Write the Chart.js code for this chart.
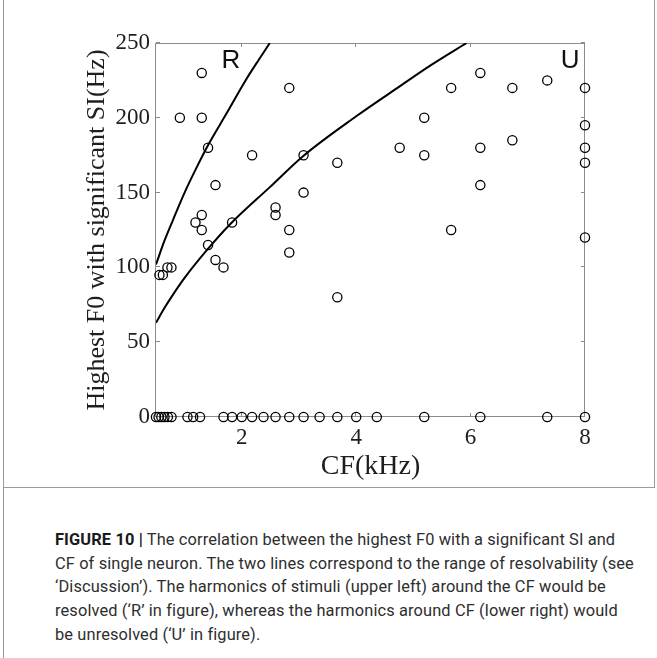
<!DOCTYPE html>
<html>
<head>
<meta charset="utf-8">
<script src="https://cdn.jsdelivr.net/npm/chart.js@4/dist/chart.umd.min.js"></script>
<style>
  html, body { margin: 0; padding: 0; background: #fff; }
  body { width: 657px; height: 658px; position: relative; overflow: hidden; }
  #plot { position: absolute; left: 0; top: 0; width: 657px; height: 485px; }
  .rule { position: absolute; background: #9a9a9a; }
  #caption {
    position: absolute; left: 55px; top: 528px; width: 600px;
    font-family: Roboto, "Liberation Sans", sans-serif; font-size: 16.4px;
    letter-spacing: 0.12px;
    line-height: 23.7px; color: #2e2e2e; white-space: nowrap;
  }
  #caption b { font-weight: bold; color: #1a1a1a; }
</style>
</head>
<body>
<div id="plot"><canvas id="chart" width="657" height="485"></canvas></div>
<div class="rule" style="left:3px; top:0; width:1px; height:658px;"></div>
<div class="rule" style="left:654px; top:0; width:1px; height:487px;"></div>
<div class="rule" style="left:3px; top:487px; width:652px; height:1px;"></div>
<div id="caption"><b>FIGURE 10 |</b> The correlation between the highest F0 with a significant SI and<br>CF of single neuron. The two lines correspond to the range of resolvability (see<br>‘Discussion’). The harmonics of stimuli (upper left) around the CF would be<br>resolved (‘R’ in figure), whereas the harmonics around CF (lower right) would<br>be unresolved (‘U’ in figure).</div>

<script>
// Characteristic frequency (kHz) of each neuron and the highest F0 (Hz)
// that still gave a significant SI for it.
const neuronCF = [
  0.56, 0.62, 0.70, 0.77,
  0.917,
  1.19,
  1.30, 1.30, 1.30, 1.30,
  1.41, 1.41,
  1.54, 1.54,
  1.68,
  1.83,
  2.18,
  2.59, 2.59,
  2.83, 2.83, 2.83,
  3.08, 3.08,
  3.67, 3.67,
  4.76,
  5.19, 5.19,
  5.66, 5.66,
  6.17, 6.17, 6.17,
  6.73, 6.73,
  7.34,
  8.0, 8.0, 8.0, 8.0, 8.0,
  // neurons without any significant F0
  0.5, 0.545, 0.594, 0.648, 0.707, 0.771,
  1.05, 1.15, 1.27,
  1.68, 1.83, 2.0, 2.18, 2.38, 2.59, 2.83, 3.08, 3.36, 3.67, 4.0, 4.36,
  5.19, 6.17, 7.34, 8.0
];
const neuronF0 = [
  95, 95, 100, 100,
  200,
  130,
  230, 200, 135, 125,
  180, 115,
  155, 105,
  100,
  130,
  175,
  140, 135,
  220, 125, 110,
  175, 150,
  170, 80,
  180,
  200, 175,
  220, 125,
  230, 180, 155,
  220, 185,
  225,
  220, 195, 180, 170, 120,
  0, 0, 0, 0, 0, 0,
  0, 0, 0,
  0, 0, 0, 0, 0, 0, 0, 0, 0, 0, 0, 0,
  0, 0, 0, 0
];

// Boundaries of resolvability
const resolvedCF   = [0.5, 0.65, 0.8, 1.0, 1.2, 1.4, 1.75, 2.05, 2.3, 2.49];
const resolvedF0   = [102, 118, 132, 150, 166, 181, 204, 224, 239, 250];
const unresolvedCF = [0.5, 0.65, 0.8, 1.0, 1.4, 1.8, 2.5, 3.06, 4.0, 4.76, 5.3, 5.93];
const unresolvedF0 = [63, 73, 82, 93, 112, 129, 154, 174, 201, 221, 235, 250];

const xTickValues = [2, 4, 6, 8];
const yTickValues = [0, 50, 100, 150, 200, 250];

const zip = (xs, ys) => xs.map((v, i) => ({ x: v, y: ys[i] }));

const serif = '"Liberation Serif", "Times New Roman", serif';
const axisGrey = '#8c8c8c';

// Box around the plotting area with short inward MATLAB-style ticks,
// plus the R / U region markers.
const boxAndLabels = {
  id: 'boxAndLabels',
  beforeDatasetsDraw(chart) {
    const { ctx, chartArea: a, scales: { x, y } } = chart;
    const len = 4;
    ctx.save();
    ctx.strokeStyle = axisGrey;
    ctx.lineWidth = 1;
    ctx.strokeRect(a.left - 0.5, a.top + 0.5, a.right - a.left, a.bottom - a.top - 1);
    ctx.beginPath();
    xTickValues.forEach(v => {
      const px = Math.round(x.getPixelForValue(v)) - 0.5;
      ctx.moveTo(px, a.bottom); ctx.lineTo(px, a.bottom - len);
      ctx.moveTo(px, a.top);    ctx.lineTo(px, a.top + len);
    });
    yTickValues.forEach(v => {
      const py = Math.round(y.getPixelForValue(v)) - 0.5;
      ctx.moveTo(a.left, py);  ctx.lineTo(a.left + len, py);
      ctx.moveTo(a.right, py); ctx.lineTo(a.right - len, py);
    });
    ctx.stroke();
    ctx.restore();
  },
  afterDraw(chart, args, opts) {
    const { ctx, scales: { x, y } } = chart;
    ctx.save();
    ctx.fillStyle = '#111';
    ctx.font = '26px "Liberation Sans", Arial, sans-serif';
    ctx.textAlign = 'center';
    ctx.textBaseline = 'middle';
    opts.marks.forEach(m => {
      ctx.fillText(m.text, x.getPixelForValue(m.cf), y.getPixelForValue(m.f0));
    });
    ctx.restore();
  }
};

new Chart(document.getElementById('chart'), {
  type: 'scatter',
  data: {
    datasets: [
      {
        label: 'Neurons',
        data: zip(neuronCF, neuronF0),
        pointStyle: 'circle',
        pointRadius: 4.6,
        pointHoverRadius: 4.6,
        borderColor: '#000',
        backgroundColor: 'rgba(0,0,0,0)',
        borderWidth: 1.3,
        clip: false
      },
      {
        label: 'Resolved boundary',
        type: 'line',
        data: zip(resolvedCF, resolvedF0),
        borderColor: '#000',
        borderWidth: 2,
        pointRadius: 0,
        fill: false,
        cubicInterpolationMode: 'monotone'
      },
      {
        label: 'Unresolved boundary',
        type: 'line',
        data: zip(unresolvedCF, unresolvedF0),
        borderColor: '#000',
        borderWidth: 2,
        pointRadius: 0,
        fill: false,
        cubicInterpolationMode: 'monotone'
      }
    ]
  },
  options: {
    responsive: false,
    animation: false,
    events: [],
    layout: { padding: { left: 81.4, top: 43, right: 72, bottom: 1.2 } },
    plugins: {
      legend: { display: false },
      tooltip: { enabled: false },
      boxAndLabels: {
        marks: [
          { text: 'R', cf: 1.81, f0: 238 },
          { text: 'U', cf: 7.74, f0: 238 }
        ]
      }
    },
    scales: {
      x: {
        type: 'linear',
        min: 0.5,
        max: 8,
        afterBuildTicks: s => { s.ticks = xTickValues.map(v => ({ value: v })); },
        afterFit: s => { s.height = 66.8; },
        grid: { display: false, drawTicks: false },
        border: { display: false },
        ticks: {
          autoSkip: false, maxRotation: 0, padding: 7,
          color: '#1e1e1e', font: { family: serif, size: 23 }
        },
        title: {
          display: true, text: 'CF(kHz)', color: '#1e1e1e',
          font: { family: serif, size: 28 }, padding: 0
        }
      },
      y: {
        min: 0,
        max: 250,
        afterBuildTicks: s => { s.ticks = yTickValues.map(v => ({ value: v })); },
        afterFit: s => { s.width = 74.6; },
        grid: { display: false, drawTicks: false },
        border: { display: false },
        ticks: {
          autoSkip: false, padding: 6,
          color: '#1e1e1e', font: { family: serif, size: 23 }
        },
        title: {
          display: true, text: 'Highest F0 with significant SI(Hz)', color: '#1e1e1e',
          font: { family: serif, size: 26 }, padding: 0
        }
      }
    }
  },
  plugins: [boxAndLabels]
});
</script>
</body>
</html>
